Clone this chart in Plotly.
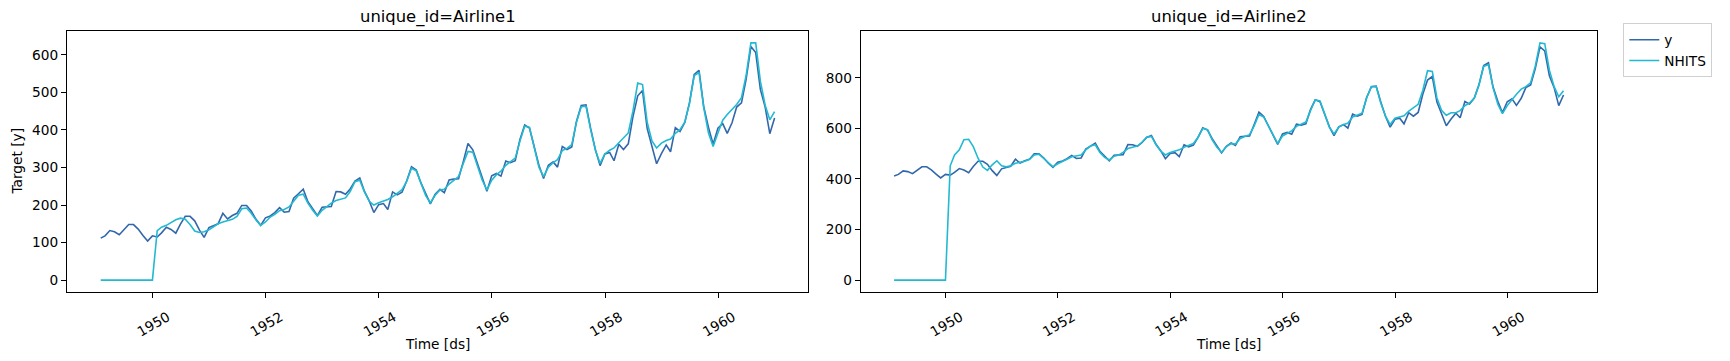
import pandas as pd
import plotly.graph_objects as go
from plotly.subplots import make_subplots

# ---- data ----
ds = pd.date_range("1949-01-31", periods=144, freq="ME")

airline1_y = [
    112, 118, 132, 129, 121, 135, 148, 148, 136, 119, 104, 118,
    115, 126, 141, 135, 125, 149, 170, 170, 158, 133, 114, 140,
    145, 150, 178, 163, 172, 178, 199, 199, 184, 162, 146, 166,
    171, 180, 193, 181, 183, 218, 230, 242, 209, 191, 172, 194,
    196, 196, 236, 235, 229, 243, 264, 272, 237, 211, 180, 201,
    204, 188, 235, 227, 234, 264, 302, 293, 259, 229, 203, 229,
    242, 233, 267, 269, 270, 315, 364, 347, 312, 274, 237, 278,
    284, 277, 317, 313, 318, 374, 413, 405, 355, 306, 271, 306,
    315, 301, 356, 348, 355, 422, 465, 467, 404, 347, 305, 336,
    340, 318, 362, 348, 363, 435, 491, 505, 404, 359, 310, 337,
    360, 342, 406, 396, 420, 472, 548, 559, 463, 407, 362, 405,
    417, 391, 419, 461, 472, 535, 622, 606, 508, 461, 390, 432,
]
airline1_nhits = [
    0, 0, 0, 0, 0, 0, 0, 0, 0, 0, 0, 0,
    132, 141, 146, 153, 161, 165, 162, 148, 131, 127, 129, 134,
    143, 150, 155, 158, 162, 170, 190, 192, 178, 160, 146, 155,
    168, 175, 185, 188, 195, 210, 226, 229, 205, 186, 171, 186,
    196, 205, 212, 215, 219, 236, 262, 266, 235, 210, 200, 206,
    210, 215, 222, 232, 241, 263, 298, 291, 257, 225, 206, 226,
    240, 242, 256, 266, 276, 310, 343, 341, 305, 266, 240, 266,
    281, 290, 306, 315, 325, 370, 410, 407, 352, 301, 276, 301,
    313, 321, 345, 351, 361, 420, 462, 463, 401, 346, 311, 336,
    346, 352, 366, 378, 392, 450, 525, 521, 421, 371, 352, 365,
    372, 376, 391, 401, 421, 470, 545, 553, 460, 392, 356, 392,
    426, 441, 455, 468, 486, 545, 632, 632, 530, 466, 427, 449,
]
airline2_y = [
    412, 418, 432, 429, 421, 435, 448, 448, 436, 419, 404, 418,
    415, 426, 441, 435, 425, 449, 470, 470, 458, 433, 414, 440,
    445, 450, 478, 463, 472, 478, 499, 499, 484, 462, 446, 466,
    471, 480, 493, 481, 483, 518, 530, 542, 509, 491, 472, 494,
    496, 496, 536, 535, 529, 543, 564, 572, 537, 511, 480, 501,
    504, 488, 535, 527, 534, 564, 602, 593, 559, 529, 503, 529,
    542, 533, 567, 569, 570, 615, 664, 647, 612, 574, 537, 578,
    584, 577, 617, 613, 618, 674, 713, 705, 655, 606, 571, 606,
    615, 601, 656, 648, 655, 722, 765, 767, 704, 647, 605, 636,
    640, 618, 662, 648, 663, 735, 791, 805, 704, 659, 610, 637,
    660, 642, 706, 696, 720, 772, 848, 859, 763, 707, 662, 705,
    717, 691, 719, 761, 772, 835, 922, 906, 808, 761, 690, 732,
]
airline2_nhits = [
    0, 0, 0, 0, 0, 0, 0, 0, 0, 0, 0, 0,
    452, 495, 515, 555, 557, 528, 482, 447, 434, 456, 472, 452,
    448, 452, 462, 465, 470, 478, 495, 498, 482, 462, 448, 460,
    468, 478, 488, 490, 495, 515, 530, 535, 505, 485, 475, 490,
    495, 505, 520, 525, 530, 545, 565, 568, 535, 510, 495, 505,
    510, 515, 525, 532, 540, 565, 600, 595, 555, 525, 505, 528,
    540, 538, 560, 568, 575, 610, 655, 645, 610, 570, 540, 570,
    580, 590, 608, 615, 625, 670, 712, 708, 655, 605, 578, 605,
    615, 620, 645, 652, 660, 720, 765, 765, 700, 648, 615, 640,
    645, 650, 668, 682, 695, 750, 828, 825, 720, 670, 652, 662,
    662, 670, 690, 700, 720, 770, 845, 852, 760, 695, 658, 690,
    715, 735, 755, 765, 780, 845, 938, 935, 830, 765, 725, 749,
]
panels = ["Airline1", "Airline2"]

# ---- style ----
C_Y = "#3268ab"
C_NH = "#22b9d2"
FONT = "DejaVu Sans"
FS = 13.7
FT = 16.4

W, H = 1730, 361
ML, MR, MT, MB = 66.7, 133.3, 30.7, 68.7
PW = W - ML - MR
PH = H - MT - MB
left_dom = [0, (808 - ML) / PW]
right_dom = [(860.3 - ML) / PW, 1]

fig = make_subplots(rows=1, cols=2)
series = [(airline1_y, airline1_nhits), (airline2_y, airline2_nhits)]
for i, (yv, nv) in enumerate(series):
    fig.add_trace(go.Scatter(x=ds, y=yv, mode="lines", name="y",
                             line=dict(color=C_Y, width=1.6),
                             showlegend=(i == 0), legendgroup="y"), row=1, col=i + 1)
    fig.add_trace(go.Scatter(x=ds, y=nv, mode="lines", name="NHITS",
                             line=dict(color=C_NH, width=1.6),
                             showlegend=(i == 0), legendgroup="nh"), row=1, col=i + 1)

span = ds[-1] - ds[0]
xr = [ds[0] - span * 0.05, ds[-1] + span * 0.05]

axis_common = dict(showline=True, linecolor="black", linewidth=1, mirror=True,
                   ticks="outside", ticklen=5, tickcolor="black", showgrid=False,
                   zeroline=False, tickfont=dict(family=FONT, size=FS, color="black"))

for i, (yv, nv) in enumerate(series):
    xa = "xaxis" if i == 0 else "xaxis2"
    ya = "yaxis" if i == 0 else "yaxis2"
    lo = min(min(yv), min(nv))
    hi = max(max(yv), max(nv))
    m = (hi - lo) * 0.05
    fig.update_layout(**{
        xa: dict(axis_common, domain=left_dom if i == 0 else right_dom, range=xr,
                 tick0="1950-01-01", dtick="M24", tickformat="%Y", tickangle=-30,
                 ticklabelshift=15, ticklabelstandoff=6),
        ya: dict(axis_common, domain=[0, 1], range=[lo - m, hi + m],
                 dtick=100 if i == 0 else 200),
    })

ann = []
for i, name in enumerate(panels):
    dom = left_dom if i == 0 else right_dom
    cx = (dom[0] + dom[1]) / 2
    ann.append(dict(text=f"unique_id={name}", xref="paper", yref="paper", x=cx, y=1,
                    yanchor="bottom", xanchor="center", yshift=2, showarrow=False,
                    font=dict(family=FONT, size=FT, color="black")))
    ann.append(dict(text="Time [ds]", xref="paper", yref="paper", x=cx, y=0,
                    yanchor="middle", xanchor="center", yshift=-(344 - (H - MB)),
                    showarrow=False, font=dict(family=FONT, size=FS, color="black")))
ann.append(dict(text="Target [y]", xref="paper", yref="paper", x=0, y=0.5,
                xanchor="center", yanchor="middle", xshift=-(ML - 15.7), textangle=-90,
                showarrow=False, font=dict(family=FONT, size=FS, color="black")))

fig.update_layout(
    width=W, height=H,
    margin=dict(l=ML, r=MR, t=MT, b=MB),
    paper_bgcolor="white", plot_bgcolor="white",
    annotations=ann,
    font=dict(family=FONT, color="black"),
    legend=dict(x=(1623 - ML) / PW, y=(H - MB - 23) / PH, xanchor="left", yanchor="top",
                bordercolor="#d0d0d0", borderwidth=1, bgcolor="white",
                font=dict(family=FONT, size=FS, color="black"),
                tracegroupgap=0, itemwidth=30),
)

fig.write_html("out.html")
